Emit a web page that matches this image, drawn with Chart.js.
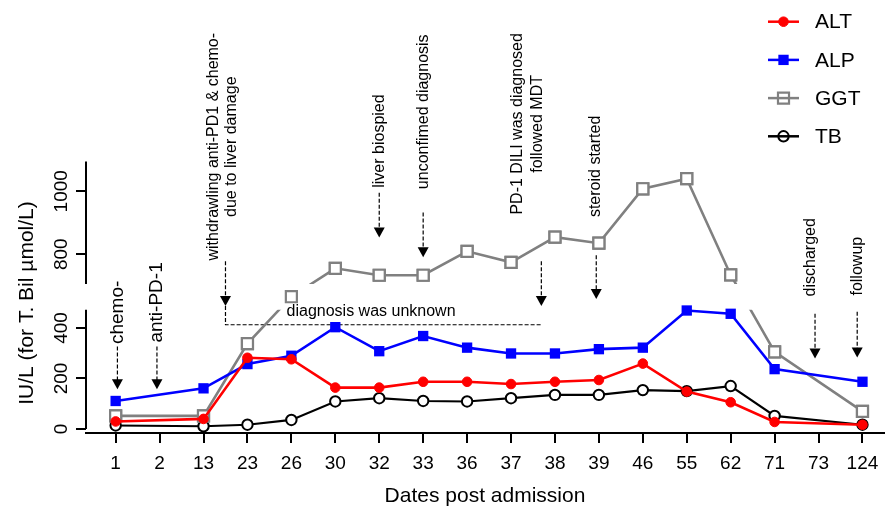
<!DOCTYPE html>
<html>
<head>
<meta charset="utf-8">
<script src="https://cdn.jsdelivr.net/npm/chart.js@4.4.1/dist/chart.umd.min.js"></script>
<style>
  html, body { margin: 0; padding: 0; background: #fff; }
  #wrap { width: 894px; height: 512px; position: relative; }
</style>
</head>
<body>
<div id="wrap"><canvas id="grafica"></canvas></div>
<script>
/* Enzimas hepaticas vs dias post ingreso, eje Y con corte entre ~470 y ~705 */

const DIAS = ['1', '2', '13', '23', '26', '30', '32', '33', '36', '37', '38', '39', '46', '55', '62', '71', '73', '124'];
const ALT = [30, null, 40, 282, 276, 164, 164, 187, 187, 178, 187, 194, 259, 148, 106, 28, null, 17];
const ALP = [111, null, 161, 257, 290, 403, 308, 368, 322, 299, 299, 316, 322, 469, 456, 237, null, 187];
const GGT = [52, null, 52, 338, 590, 755, 733, 733, 809, 774, 854, 835, 1008, 1040, 734, 305, null, 70];
const TB  = [14, null, 11, 17, 36, 109, 122, 111, 109, 122, 135, 135, 154, 150, 170, 52, null, 17];
const Y_TICKS = [0, 200, 400, 800, 1000];

const FUENTE = "'Liberation Sans', Arial, Helvetica, sans-serif";

/* ---------- Corte del eje: valor real -> unidades de pantalla ---------- */
const TRAMO_BAJO = 472, TRAMO_ALTO = 705, TOPE_ALTO = 1095;
const K_BAJO = 0.2545, K_ALTO = 0.3167;
const D_BAJO = TRAMO_BAJO * K_BAJO;   // fin del tramo inferior
const D_ALTO = 146;                   // inicio del tramo superior
function aPantalla(v) {
  if (v <= TRAMO_BAJO) return v * K_BAJO;
  if (v >= TRAMO_ALTO) return D_ALTO + (v - TRAMO_ALTO) * K_ALTO;
  // valores dentro del corte: interpolados sobre el hueco
  return D_BAJO + (v - TRAMO_BAJO) / (TRAMO_ALTO - TRAMO_BAJO) * (D_ALTO - D_BAJO);
}
function serie(arr) {
  return arr.map((v, i) => ({ x: i, y: v == null ? null : aPantalla(v) }));
}

/* ---------- Anotaciones (x en indice de fecha, y en unidades de pantalla) ---------- */
const NOTAS = [
  { tx: 0.04, ty: 117.5, lineas: ['chemo-'], tam: 19, fx: 0.04, f: [83, 40] },
  { tx: 0.94, ty: 127.5, lineas: ['anti-PD-1'], tam: 19, fx: 0.94, f: [83, 40] },
  { tx: 2.43, ty: 284.3, sep: 18, lineas: ['withdrawling anti-PD1 & chemo-', 'due to liver damage'], tam: 16, fx: 2.5, f: [169, 124] },
  { tx: 6, ty: 290, lineas: ['liver biospied'], tam: 16, fx: 6, f: [238, 193] },
  { tx: 7, ty: 319.5, lineas: ['unconfimed diagnosis'], tam: 16, fx: 7, f: [218, 173] },
  { tx: 9.38, ty: 307.3, sep: 20, lineas: ['PD-1 DILI was diagnosed', 'followed MDT'], tam: 16, fx: 9.69, f: [169, 124] },
  { tx: 10.92, ty: 264.5, lineas: ['steroid started'], tam: 16, fx: 10.94, f: [175, 131] },
  { tx: 15.83, ty: 173, lineas: ['discharged'], tam: 16, fx: 15.92, f: [116, 71] },
  { tx: 16.88, ty: 164, lineas: ['followup'], tam: 16, fx: 16.88, f: [118, 72] },
];
// periodo sin diagnostico: linea discontinua horizontal
const PERIODO = { x0: 2.5, x1: 9.71, y: 105, texto: 'diagnosis was unknown', tx: 3.89, ty: 114 };

function textoVertical(ctx, txt, x, y, px) {
  ctx.save();
  ctx.translate(x, y);
  ctx.rotate(-Math.PI / 2);
  ctx.font = px + 'px ' + FUENTE;
  ctx.fillStyle = '#000';
  ctx.textAlign = 'center';
  ctx.textBaseline = 'middle';
  ctx.fillText(txt, 0, 0);
  ctx.restore();
}

function flecha(ctx, x, y0, y1) {
  ctx.save();
  ctx.strokeStyle = '#000';
  ctx.fillStyle = '#000';
  ctx.lineWidth = 1.2;
  ctx.setLineDash([4, 2]);
  ctx.beginPath();
  ctx.moveTo(x, y0);
  ctx.lineTo(x, y1 - 9);
  ctx.stroke();
  ctx.setLineDash([]);
  ctx.beginPath();
  ctx.moveTo(x - 5.5, y1 - 10);
  ctx.lineTo(x + 5.5, y1 - 10);
  ctx.lineTo(x, y1);
  ctx.closePath();
  ctx.fill();
  ctx.restore();
}

const notasPlugin = {
  id: 'notas',
  beforeDatasetsDraw(chart) {
    const { ctx, scales: { x, y } } = chart;
    NOTAS.forEach(n => {
      const cx = x.getPixelForValue(n.tx), cy = y.getPixelForValue(n.ty);
      const sep = n.sep || 0;
      n.lineas.forEach((l, i) => {
        textoVertical(ctx, l, cx + (i - (n.lineas.length - 1) / 2) * sep, cy, n.tam);
      });
      flecha(ctx, x.getPixelForValue(n.fx), y.getPixelForValue(n.f[0]), y.getPixelForValue(n.f[1]));
    });
    // tramo "diagnosis was unknown"
    const px0 = x.getPixelForValue(PERIODO.x0), px1 = x.getPixelForValue(PERIODO.x1);
    const py = y.getPixelForValue(PERIODO.y);
    ctx.save();
    ctx.strokeStyle = '#000';
    ctx.lineWidth = 1.2;
    ctx.setLineDash([4, 2]);
    ctx.beginPath();
    ctx.moveTo(px0, y.getPixelForValue(124));
    ctx.lineTo(px0, py);
    ctx.lineTo(px1, py);
    ctx.stroke();
    ctx.setLineDash([]);
    ctx.font = '16px ' + FUENTE;
    ctx.fillStyle = '#000';
    ctx.textAlign = 'left';
    ctx.textBaseline = 'alphabetic';
    ctx.fillText(PERIODO.texto, x.getPixelForValue(PERIODO.tx), y.getPixelForValue(PERIODO.ty));
    ctx.restore();
  },
};

/* ---------- GGT: la linea se corta en el hueco del eje ---------- */
const cortePlugin = {
  id: 'corte',
  beforeDatasetDraw(chart, args) {
    if (chart.data.datasets[args.index].label !== 'GGT') return;
    const { ctx, chartArea: a, scales: { y } } = chart;
    const yA = y.getPixelForValue(D_ALTO), yB = y.getPixelForValue(D_BAJO);
    ctx.save();
    ctx.beginPath();
    ctx.rect(a.left, 0, a.width, yA);
    ctx.rect(a.left, yB, a.width, chart.height - yB);
    ctx.clip();
  },
  afterDatasetDraw(chart, args) {
    if (chart.data.datasets[args.index].label !== 'GGT') return;
    chart.ctx.restore();
    // los marcadores se dibujan completos aunque caigan en el hueco
    args.meta.data.forEach(p => p.draw(chart.ctx, chart.chartArea));
  },
};

/* ---------- Eje Y partido, etiquetas giradas y leyenda ---------- */
function marcador(ctx, ds, x, y) {
  ctx.save();
  ctx.lineWidth = ds.pointBorderWidth;
  ctx.strokeStyle = ds.borderColor;
  ctx.fillStyle = ds.pointBackgroundColor;
  ctx.beginPath();
  if (ds.pointStyle === 'rect') {
    const s = ds.pointRadius * Math.SQRT1_2;
    ctx.rect(x - s, y - s, 2 * s, 2 * s);
  } else {
    ctx.arc(x, y, ds.pointRadius, 0, Math.PI * 2);
  }
  if (ds.leyendaHueca) ctx.stroke();
  else { ctx.fill(); if (ds.pointBorderWidth) ctx.stroke(); }
  ctx.restore();
}

const ejePlugin = {
  id: 'ejeRoto',
  afterDraw(chart) {
    const { ctx, chartArea: a, scales: { y } } = chart;
    ctx.save();
    ctx.strokeStyle = '#000';
    ctx.lineWidth = 2;
    ctx.beginPath();
    ctx.moveTo(a.left, y.getPixelForValue(0));
    ctx.lineTo(a.left, y.getPixelForValue(D_BAJO));
    ctx.moveTo(a.left, y.getPixelForValue(D_ALTO));
    ctx.lineTo(a.left, y.getPixelForValue(aPantalla(TOPE_ALTO)));
    ctx.stroke();
    ctx.restore();

    Y_TICKS.forEach(v => textoVertical(ctx, String(v), a.left - 24, y.getPixelForValue(aPantalla(v)), 19));
    textoVertical(ctx, 'IU/L (for T. Bil \u00b5mol/L)', 27, 303, 21);

    // leyenda
    chart.data.datasets.forEach((ds, i) => {
      const ly = 21.7 + i * 38.2;
      ctx.save();
      ctx.strokeStyle = ds.borderColor;
      ctx.lineWidth = 2.5;
      ctx.beginPath();
      ctx.moveTo(768, ly);
      ctx.lineTo(799, ly);
      ctx.stroke();
      ctx.restore();
      marcador(ctx, ds, 783.5, ly);
      ctx.save();
      ctx.font = '21px ' + FUENTE;
      ctx.fillStyle = '#000';
      ctx.textAlign = 'left';
      ctx.textBaseline = 'middle';
      ctx.fillText(ds.label, 815, ly + 1);
      ctx.restore();
    });
  },
};

Chart.defaults.font.family = FUENTE;
Chart.defaults.color = '#000';

const rejilla = { drawOnChartArea: false, color: '#000', lineWidth: 2, tickLength: 10 };

new Chart(document.getElementById('grafica'), {
  type: 'line',
  data: {
    datasets: [
      { label: 'ALT', data: serie(ALT), borderColor: '#ff0000', backgroundColor: '#ff0000',
        pointBackgroundColor: '#ff0000', pointStyle: 'circle', pointRadius: 4.8, pointBorderWidth: 1, borderWidth: 2.6 },
      { label: 'ALP', data: serie(ALP), borderColor: '#0000ff', backgroundColor: '#0000ff',
        pointBackgroundColor: '#0000ff', pointStyle: 'rect', pointRadius: 7.3, pointBorderWidth: 0, borderWidth: 2.6 },
      { label: 'GGT', data: serie(GGT), borderColor: '#808080', backgroundColor: '#808080',
        pointBackgroundColor: '#ffffff', pointStyle: 'rect', pointRadius: 7.8, pointBorderWidth: 2.2, borderWidth: 2.6, leyendaHueca: true },
      { label: 'TB', data: serie(TB), borderColor: '#000000', backgroundColor: '#000000',
        pointBackgroundColor: '#ffffff', pointStyle: 'circle', pointRadius: 5.2, pointBorderWidth: 2, borderWidth: 2.2, leyendaHueca: true },
    ],
  },
  options: {
    responsive: true,
    maintainAspectRatio: false,
    animation: false,
    events: [],
    spanGaps: true,
    elements: { line: { tension: 0 } },
    layout: { padding: { left: 76, top: 150, right: 0, bottom: 1 } },
    plugins: { legend: { display: false }, tooltip: { enabled: false } },
    scales: {
      x: {
        type: 'linear', min: -0.675, max: 17.49,
        afterBuildTicks: s => { s.ticks = DIAS.map((_, i) => ({ value: i })); },
        ticks: { callback: v => DIAS[v], font: { size: 19 }, padding: 9, autoSkip: false, maxRotation: 0 },
        grid: rejilla,
        border: { color: '#000', width: 2 },
        title: { display: true, text: 'Dates post admission', font: { size: 21 }, padding: { top: 0, bottom: 2 } },
      },
      y: {
        type: 'linear', min: -4, max: 281,
        afterBuildTicks: s => { s.ticks = Y_TICKS.map(v => ({ value: aPantalla(v) })); },
        ticks: { display: false },
        grid: rejilla,
        border: { display: false },
      },
    },
  },
  plugins: [cortePlugin, notasPlugin, ejePlugin],
});
</script>
</body>
</html>
